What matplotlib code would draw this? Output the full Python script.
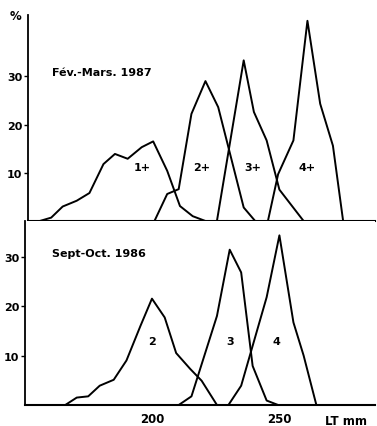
import matplotlib.pyplot as plt

# Fév.-Mars 1987 length distributions (%), LT in mm
x_1p = [156, 160.5, 165, 170.5, 175.5, 181, 185.5, 190.5, 196, 200.5, 206, 211, 216, 221]
y_1p = [0, 0.7, 3.0, 4.2, 5.8, 11.8, 13.9, 12.9, 15.3, 16.5, 10.4, 3.1, 1.0, 0]
x_2p = [201, 206, 210.5, 215.5, 221, 226, 236, 240.5]
y_2p = [0, 5.6, 6.6, 22.2, 29.0, 23.6, 2.8, 0]
x_3p = [225.5, 236, 240, 245, 250, 259.5]
y_3p = [0, 33.3, 22.6, 16.7, 6.5, 0]
x_4p = [245.5, 249.5, 255.5, 261, 266, 271, 275]
y_4p = [0, 9.7, 16.7, 41.5, 24.3, 15.6, 0]

# Sept.-Oct. 1986
x_2 = [166, 170.5, 175, 179.5, 185, 190, 195.5, 200, 205, 209.5, 215, 219.5, 225.5]
y_2 = [0, 1.5, 1.75, 3.9, 5.1, 9.0, 16.0, 21.5, 17.7, 10.5, 7.3, 4.9, 0]
x_3 = [210.5, 215.5, 225.5, 230.5, 235, 239.5, 245, 249.5]
y_3 = [0, 1.75, 18.0, 31.4, 26.8, 7.9, 0.9, 0]
x_4 = [230, 235, 245, 250, 255.5, 259.5, 264.5]
y_4 = [0, 3.9, 21.8, 34.3, 16.7, 10.0, 0]

yticks = [10, 20, 30]
xticks = [200, 250]

plt.rcParams['font.family'] = 'DejaVu Sans'
plt.rcParams['font.weight'] = 'bold'

W, H = 377, 427
fig = plt.figure(figsize=(W / 100, H / 100), dpi=100)

ax1 = fig.add_axes([28 / W, (H - 222) / H, (375 - 28) / W, (222 - 16) / H])
ax2 = fig.add_axes([25 / W, (H - 406) / H, (375 - 25) / W, (406 - 222) / H])

lw = 1.4
for xs, ys in [(x_1p, y_1p), (x_2p, y_2p), (x_3p, y_3p), (x_4p, y_4p)]:
    ax1.plot(xs, ys, color='black', lw=lw)
for xs, ys in [(x_2, y_2), (x_3, y_3), (x_4, y_4)]:
    ax2.plot(xs, ys, color='black', lw=lw)

ax1.set_xlim(151.4, 287.5)
ax1.set_ylim(0, 42.7)
ax2.set_xlim(150.2, 287.5)
ax2.set_ylim(0, 37.2)

for ax in (ax1, ax2):
    for s in ('top', 'right'):
        ax.spines[s].set_visible(False)
    ax.spines['left'].set_linewidth(1.3)
    ax.spines['bottom'].set_linewidth(1.5)
    ax.set_yticks(yticks)
    ax.tick_params(axis='y', length=3, width=1, labelsize=8, pad=1)

ax1.set_xticks([])
ax2.set_xticks(xticks)
ax2.tick_params(axis='x', length=0, labelsize=8.5, pad=5)

ax1.text(-0.037, 1.0, '%', transform=ax1.transAxes, fontsize=8.5, ha='center', va='center')
ax1.text(160.8, 30.8, 'Fév.-Mars. 1987', fontsize=8, va='center')
ax2.text(160.8, 30.7, 'Sept-Oct. 1986', fontsize=8, va='center')

for lab, xx in [('1+', 196), ('2+', 219.5), ('3+', 239.5), ('4+', 261)]:
    ax1.text(xx, 11.2, lab, fontsize=8, ha='center', va='center')
for lab, xx in [('2', 200), ('3', 230.5), ('4', 249)]:
    ax2.text(xx, 13, lab, fontsize=8, ha='center', va='center')

ax2.text(267.8, -3.2, 'LT mm', fontsize=8.5, ha='left', va='center')

fig.savefig('out.png', dpi=100)
